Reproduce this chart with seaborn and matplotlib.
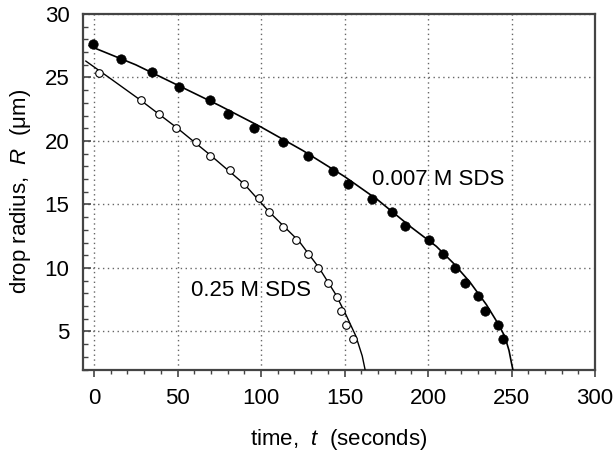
import matplotlib
matplotlib.use("Agg")
import matplotlib.pyplot as plt
import seaborn as sns
import pandas as pd
from matplotlib.ticker import MultipleLocator

# pontos medidos (leitura do gráfico)
t_007 = [-0.4, 16.0, 35.0, 51.0, 69.2, 80.2, 96.0, 113.0, 128.0, 143.2, 152.0,
         166.2, 178.2, 186.0, 200.4, 209.0, 216.2, 222.4, 230.2, 234.4, 242.0, 245.2]
r_007 = [27.62, 26.46, 25.42, 24.29, 23.22, 22.09, 21.02, 19.89, 18.79, 17.66, 16.6,
         15.46, 14.4, 13.3, 12.2, 11.06, 10.0, 8.84, 7.77, 6.64, 5.54, 4.44]

t_025 = [3.0, 28.0, 39.0, 49.0, 61.0, 69.2, 81.2, 90.0, 99.0, 105.0, 113.0,
         121.0, 128.2, 134.2, 140.2, 145.2, 148.0, 151.0, 155.2]
r_025 = [25.39, 23.19, 22.09, 21.0, 19.9, 18.82, 17.7, 16.6, 15.5, 14.4, 13.26,
         12.2, 11.06, 9.97, 8.84, 7.74, 6.64, 5.54, 4.41]

# curvas ajustadas (leitura do gráfico)
fit_t_007 = [-3, 25, 50, 75, 100, 125, 150, 170, 190, 205, 215, 225, 235, 242,
             246, 248.5, 250, 250.8]
fit_r_007 = [27.5, 26.0, 24.4, 22.8, 21.1, 19.25, 17.2, 15.35, 13.2, 11.7, 10.4,
             8.9, 7.1, 5.6, 4.6, 3.5, 2.5, 2.0]

fit_t_025 = [-5, 10, 28, 50, 70, 90, 105, 122.8, 134.8, 144.8, 150.8, 156.8,
             160.6, 162.3]
fit_r_025 = [26.3, 24.9, 23.2, 21.0, 18.85, 16.6, 14.4, 12.1, 10.0, 7.9, 6.33,
             4.63, 3.07, 2.0]

sns.set_style("ticks")
plt.rcParams["font.family"] = ["Liberation Sans", "DejaVu Sans"]
plt.rcParams["mathtext.fontset"] = "custom"
plt.rcParams["mathtext.rm"] = "Liberation Sans"
plt.rcParams["mathtext.it"] = "Liberation Sans:italic"
plt.rcParams["text.color"] = "black"
plt.rcParams["axes.labelcolor"] = "black"

fig = plt.figure(figsize=(6.15, 4.58), dpi=100)
ax = fig.add_axes([0.1355, 0.1932, 0.832, 0.7762])

df_fit_007 = pd.DataFrame({"t": fit_t_007, "r": fit_r_007})
df_fit_025 = pd.DataFrame({"t": fit_t_025, "r": fit_r_025})
sns.lineplot(data=df_fit_007, x="t", y="r", sort=False, color="black",
             linewidth=1.2, ax=ax, zorder=3)
sns.lineplot(data=df_fit_025, x="t", y="r", sort=False, color="black",
             linewidth=1.0, ax=ax, zorder=3)

sns.scatterplot(x=t_007, y=r_007, color="black", s=46, edgecolor="black",
                linewidth=0.5, ax=ax, zorder=4)
sns.scatterplot(x=t_025, y=r_025, facecolor="white", s=30, edgecolor="black",
                linewidth=0.8, ax=ax, zorder=4)

ax.text(166.6, 17.0, "0.007 M SDS", fontsize=16, va="center", ha="left")
ax.text(58, 8.23, "0.25 M SDS", fontsize=16, va="center", ha="left")

ax.set_xlim(-6.4, 300)
ax.set_ylim(2, 30)
ax.set_xticks([0, 50, 100, 150, 200, 250, 300])
ax.set_yticks([5, 10, 15, 20, 25, 30])
ax.xaxis.set_minor_locator(MultipleLocator(10))
ax.yaxis.set_minor_locator(MultipleLocator(1))

ax.grid(True, which="major", linestyle=(0, (1, 2.5)), color="#666666", linewidth=1.0)
ax.set_axisbelow(True)

for s in ax.spines.values():
    s.set_color("#444444")
    s.set_linewidth(1.6)

ax.tick_params(axis="x", which="major", direction="out", length=5, width=1.2,
               labelsize=16, pad=8, top=False, colors="#444444", labelcolor="black")
ax.tick_params(axis="x", which="minor", direction="out", length=3, width=1.0,
               top=False, colors="#444444")
ax.tick_params(axis="y", which="major", direction="in", length=6, width=1.2,
               labelsize=16, pad=10, right=False, colors="#444444", labelcolor="black")
ax.tick_params(axis="y", which="minor", direction="in", length=3.5, width=1.0,
               right=False, colors="#444444")

ax.set_xlabel("time,  $\\mathit{t}$  (seconds)", fontsize=16, labelpad=13)
ax.set_ylabel("drop radius,  $\\mathit{R}$  (μm)", fontsize=16, labelpad=8)

fig.savefig("out.png", dpi=100)
